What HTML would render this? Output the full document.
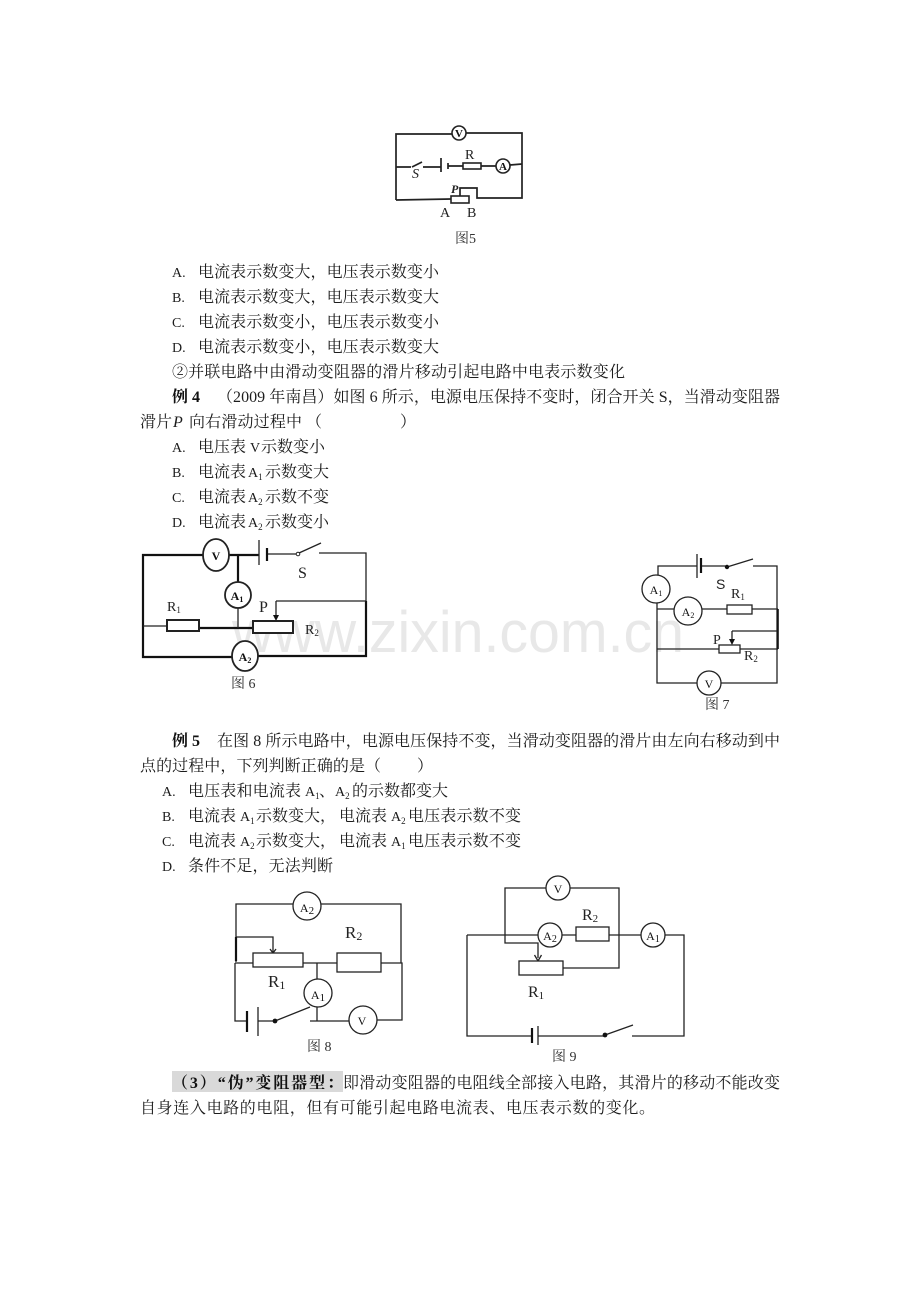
<!DOCTYPE html>
<html lang="zh">
<head>
<meta charset="utf-8">
<title>电路图</title>
<style>
html,body{margin:0;padding:0;background:#fff;width:920px;height:1302px;overflow:hidden}
svg{display:block}
.t{font-family:"Liberation Serif","Noto Serif CJK SC",serif;font-size:16px;fill:#1c1c1c}
.l{font-family:"Liberation Serif","Noto Serif CJK SC",serif;font-size:14px;fill:#1c1c1c}
.b{font-family:"Liberation Serif","Noto Serif CJK SC",serif;font-size:16px;font-weight:700;fill:#111}
.s{font-size:9px}
.w{fill:none;stroke:#222;stroke-width:1.3}
.f5 .w{stroke-width:1.7}
.k{fill:none;stroke:#111;stroke-width:2.2}
.r{fill:#fff;stroke:#222;stroke-width:1.3}
.f5 .r{stroke-width:1.6}
.lb{font-family:"Liberation Serif","Noto Serif CJK SC",serif;font-size:14px;fill:#222}
.m{font-family:"Liberation Serif",serif;font-size:12px;fill:#111;text-anchor:middle}
.fg{font-family:"Liberation Serif","Noto Serif CJK SC",serif;font-size:13px;fill:#333}
</style>
</head>
<body>
<svg xmlns="http://www.w3.org/2000/svg" width="920" height="1302" viewBox="0 0 920 1302">
<rect width="920" height="1302" fill="#fff"/>

<!-- watermark -->
<text x="232" y="652" font-family="Liberation Sans, sans-serif" font-size="58" fill="#e8e8e8" textLength="452" lengthAdjust="spacingAndGlyphs">www.zixin.com.cn</text>

<!-- Figure 5 -->
<g class="f5">
<path class="w" d="M396 200V134H452M466 133H522V198H477V188H460V196M396 200L451 199"/>
<path class="w" d="M396 167H411M423 167H441M448 166H463M481 166H496M510 165L522 164"/>
<path class="w" d="M412 167L422 162M441 158V172"/>
<path class="w" d="M448 163V169"/>
<circle class="r" cx="459" cy="133" r="7"/><circle class="r" cx="503" cy="166" r="7"/>
<rect class="r" x="463" y="163" width="18" height="6"/>
<rect class="r" x="451" y="196" width="18" height="7"/>
<text class="m" style="font-size:11px;font-weight:700" x="459" y="137">V</text>
<text class="m" style="font-size:11px;font-weight:700" x="503" y="170">A</text>
<text class="lb" x="412" y="178" font-style="italic" style="font-size:14px">S</text>
<text class="lb" x="465" y="159" style="font-size:14px">R</text>
<text class="lb" x="451" y="193" style="font-size:12px;font-weight:700;font-style:italic">P</text>
<text class="lb" x="440" y="217" style="font-size:14px">A</text>
<text class="lb" x="467" y="217" style="font-size:14px">B</text>
<text class="fg" x="455" y="243" style="font-size:14px">图5</text>
</g>

<!-- Main text block 1 -->
<text class="l" x="172" y="277">A.</text><text class="t" x="198" y="277" textLength="241">电流表示数变大，电压表示数变小</text>
<text class="l" x="172" y="302">B.</text><text class="t" x="198" y="302" textLength="241">电流表示数变大，电压表示数变大</text>
<text class="l" x="172" y="327">C.</text><text class="t" x="198" y="327" textLength="241">电流表示数变小，电压表示数变小</text>
<text class="l" x="172" y="352">D.</text><text class="t" x="198" y="352" textLength="241">电流表示数变小，电压表示数变大</text>
<text class="t" x="172" y="377" textLength="453">②并联电路中由滑动变阻器的滑片移动引起电路中电表示数变化</text>

<text class="b" x="172" y="402">例 4</text>
<text class="t" x="217" y="402" textLength="563">（2009 年南昌）如图 6 所示，电源电压保持不变时，闭合开关 S，当滑动变阻器</text>
<text class="t" x="140" y="427">滑片</text><text class="t" x="173" y="427" font-style="italic">P</text><text class="t" x="189" y="427" textLength="113">向右滑动过程中</text>
<text class="t" x="306" y="427">（</text><text class="t" x="400" y="427">）</text>

<text class="l" x="172" y="452">A.</text><text class="t" x="198" y="452">电压表</text><text class="l" x="250" y="452">V</text><text class="t" x="261" y="452" textLength="64">示数变小</text>
<text class="l" x="172" y="477">B.</text><text class="t" x="198" y="477">电流表</text><text class="l" x="248" y="477">A<tspan class="s" dy="3">1</tspan></text><text class="t" x="265" y="477" textLength="64">示数变大</text>
<text class="l" x="172" y="502">C.</text><text class="t" x="198" y="502">电流表</text><text class="l" x="248" y="502">A<tspan class="s" dy="3">2</tspan></text><text class="t" x="265" y="502" textLength="64">示数不变</text>
<text class="l" x="172" y="527">D.</text><text class="t" x="198" y="527">电流表</text><text class="l" x="248" y="527">A<tspan class="s" dy="3">2</tspan></text><text class="t" x="265" y="527" textLength="64">示数变小</text>

<!-- Figure 6 -->
<g>
<path class="k" d="M203 555H143V657H232M258 656H366V601M229 555H259M238 555V582M199 628H253"/>
<path class="w" d="M366 601V553H319M267 554H296M238 608V628M143 626H167M276 601H366M276 601V616"/>
<path class="w" d="M299 553L321 543"/>
<path class="w" d="M259 540V565"/>
<path class="k" d="M267 548V561"/>
<circle cx="298" cy="554" r="1.8" fill="#fff" stroke="#222"/>
<path d="M273 615H279L276 621Z" fill="#111"/>
<ellipse class="r" style="stroke-width:1.8" cx="216" cy="555" rx="13" ry="16"/>
<circle class="r" style="stroke-width:1.8" cx="238" cy="595" r="13"/>
<ellipse class="r" style="stroke-width:1.8" cx="245" cy="656" rx="13" ry="15"/>
<rect class="r" style="stroke-width:2" x="167" y="620" width="32" height="11"/>
<rect class="r" style="stroke-width:2" x="253" y="621" width="40" height="12"/>
<text class="m" x="216" y="560" font-weight="700" font-size="13">V</text>
<text class="m" x="237" y="600" font-weight="700" font-size="12">A<tspan font-size="8" dy="2">1</tspan></text>
<text class="m" x="245" y="661" font-weight="700" font-size="12">A<tspan font-size="8" dy="2">2</tspan></text>
<text class="lb" x="298" y="578" style="font-size:16px">S</text>
<text class="lb" x="167" y="611" style="font-size:14px">R<tspan font-size="9" dy="2">1</tspan></text>
<text class="lb" x="259" y="612" style="font-size:16px">P</text>
<text class="lb" x="305" y="634" style="font-size:14px">R<tspan font-size="9" dy="2">2</tspan></text>
<text class="fg" x="231" y="688" style="font-size:14px">图 6</text>
</g>

<!-- Figure 7 -->
<g>
<path class="w" d="M658 575V566H697M701 566H727M753 566H777V683H721M697 683H657V603M657 609H674M702 609H727M752 609H778M657 649H719M740 649H778M732 631H778M732 631V640"/>
<path class="k" style="stroke-width:1.6" d="M778 609V649"/>
<path class="w" d="M727 567L753 559M697 554V578"/>
<path class="k" d="M701 558V573"/>
<circle cx="727" cy="567" r="2.2" fill="#111"/>
<path d="M729 639H735L732 645Z" fill="#111"/>
<circle class="r" cx="656" cy="589" r="14"/><circle class="r" cx="688" cy="611" r="14"/><circle class="r" cx="709" cy="683" r="12"/>
<rect class="r" x="727" y="605" width="25" height="9"/><rect class="r" x="719" y="645" width="21" height="8"/>
<text class="m" x="656" y="594" font-size="12">A<tspan font-size="8" dy="2">1</tspan></text>
<text class="m" x="688" y="616" font-size="12">A<tspan font-size="8" dy="2">2</tspan></text>
<text class="m" x="709" y="688" font-size="13">V</text>
<text class="lb" x="716" y="589" style="font-family:'Liberation Sans',sans-serif;font-size:14px">S</text>
<text class="lb" x="731" y="598" style="font-size:14px">R<tspan font-size="9" dy="2">1</tspan></text>
<text class="lb" x="713" y="644" style="font-size:14px">P</text>
<text class="lb" x="744" y="660" style="font-size:14px">R<tspan font-size="9" dy="2">2</tspan></text>
<text class="fg" x="705" y="709" style="font-size:14px">图 7</text>
</g>

<!-- Example 5 text -->
<text class="b" x="172" y="746">例 5</text>
<text class="t" x="217" y="746" textLength="563">在图 8 所示电路中，电源电压保持不变，当滑动变阻器的滑片由左向右移动到中</text>
<text class="t" x="140" y="771" textLength="225">点的过程中，下列判断正确的是</text><text class="t" x="365" y="771">（</text><text class="t" x="417" y="771">）</text>

<text class="l" x="162" y="796">A.</text><text class="t" x="188" y="796" textLength="113">电压表和电流表</text><text class="l" x="305" y="796">A<tspan class="s" dy="3">1</tspan></text><text class="t" x="319" y="796">、</text><text class="l" x="335" y="796">A<tspan class="s" dy="3">2</tspan></text><text class="t" x="352" y="796" textLength="96">的示数都变大</text>
<text class="l" x="162" y="821">B.</text><text class="t" x="188" y="821">电流表</text><text class="l" x="240" y="821">A<tspan class="s" dy="3">1</tspan></text><text class="t" x="256" y="821" textLength="80">示数变大，</text><text class="t" x="339" y="821">电流表</text><text class="l" x="391" y="821">A<tspan class="s" dy="3">2</tspan></text><text class="t" x="408" y="821" textLength="113">电压表示数不变</text>
<text class="l" x="162" y="846">C.</text><text class="t" x="188" y="846">电流表</text><text class="l" x="240" y="846">A<tspan class="s" dy="3">2</tspan></text><text class="t" x="256" y="846" textLength="80">示数变大，</text><text class="t" x="339" y="846">电流表</text><text class="l" x="391" y="846">A<tspan class="s" dy="3">1</tspan></text><text class="t" x="408" y="846" textLength="113">电压表示数不变</text>
<text class="l" x="162" y="871">D.</text><text class="t" x="188" y="871" textLength="145">条件不足，无法判断</text>

<!-- Figure 8 -->
<g>
<path class="w" d="M236 962V904H293M321 904H401V963M381 963H402V1020H377M349 1021H310M235 963V1021H247M258 1021H275M235 963H253M303 963H337M317 963V979M317 1007V1021M236 937H273V953"/>
<path class="k" d="M236 937V961"/>
<path class="w" d="M275 1021L310 1007M258 1007V1036"/>
<path class="k" d="M247 1011V1032"/>
<circle cx="275" cy="1021" r="2.4" fill="#111"/>
<path d="M270 949L273 953L276 949" class="w"/>
<circle class="r" cx="307" cy="906" r="14"/><circle class="r" cx="318" cy="993" r="14"/><circle class="r" cx="363" cy="1020" r="14"/>
<rect class="r" x="253" y="953" width="50" height="14"/><rect class="r" x="337" y="953" width="44" height="19"/>
<text class="m" x="307" y="912" font-size="15">A<tspan font-size="11" dy="2">2</tspan></text>
<text class="m" x="318" y="999" font-size="15">A<tspan font-size="11" dy="2">1</tspan></text>
<text class="m" x="362" y="1025" font-size="14">V</text>
<text class="lb" x="345" y="938" style="font-size:17px">R<tspan font-size="12" dy="2">2</tspan></text>
<text class="lb" x="268" y="987" style="font-size:17px">R<tspan font-size="12" dy="2">1</tspan></text>
<text class="fg" x="307" y="1051" style="font-size:14px">图 8</text>
</g>

<!-- Figure 9 -->
<g>
<path class="w" d="M546 888H505V943H538V958M570 888H619V968H563M467 935H538M562 935H576M609 935H641M665 935H684V1036H632M467 935V1036H532M538 1036H605"/>
<path class="w" d="M605 1035L633 1025M538 1026V1045"/>
<path class="k" d="M532 1028V1043"/>
<circle cx="605" cy="1035" r="2.4" fill="#111"/>
<path d="M534.5 955L538 961L541.5 955" class="w"/>
<circle class="r" cx="558" cy="888" r="12"/><circle class="r" cx="550" cy="935" r="12"/><circle class="r" cx="653" cy="935" r="12"/>
<rect class="r" x="519" y="961" width="44" height="14"/><rect class="r" x="576" y="927" width="33" height="14"/>
<text class="m" x="558" y="893" font-size="14">V</text>
<text class="m" x="550" y="940" font-size="14">A<tspan font-size="10" dy="2">2</tspan></text>
<text class="m" x="653" y="940" font-size="14">A<tspan font-size="10" dy="2">1</tspan></text>
<text class="lb" x="582" y="920" style="font-size:16px">R<tspan font-size="11" dy="2">2</tspan></text>
<text class="lb" x="528" y="997" style="font-size:16px">R<tspan font-size="11" dy="2">1</tspan></text>
<text class="fg" x="552" y="1061" style="font-size:14px">图 9</text>
</g>

<!-- Bottom paragraph -->
<rect x="172" y="1071" width="171" height="21" fill="#d9d9d9"/>
<text class="b" x="172" y="1088" textLength="171">（3）“伪”变阻器型：</text>
<text class="t" x="343" y="1088" textLength="437">即滑动变阻器的电阻线全部接入电路，其滑片的移动不能改变</text>
<text class="t" x="140" y="1113" textLength="515">自身连入电路的电阻，但有可能引起电路电流表、电压表示数的变化。</text>
</svg>
</body>
</html>
